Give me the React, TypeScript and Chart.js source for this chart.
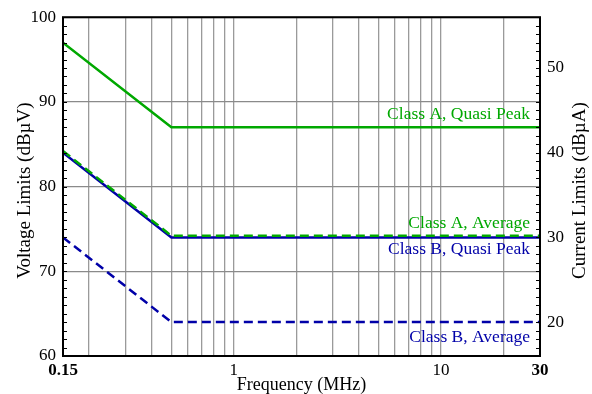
import React, { useEffect, useRef } from "react";
import { Chart, registerables } from "chart.js";

Chart.register(...registerables);

const freqs = [0.15, 0.5, 30];
const classAQP = [97, 87, 87];
const classAAvg = [84.2, 74.2, 74.2];
const classBQP = [84, 74, 74];
const classBAvg = [74, 64, 64];

const xGridTicks = [0.15, 0.2, 0.3, 0.4, 0.5, 0.6, 0.7, 0.8, 0.9, 1, 2, 3, 4, 5, 6, 7, 8, 9, 10, 20, 30];
const xLabelTicks = [0.15, 1, 10, 30];
const xBoldTicks = [0.15, 30];
const currentTicks = [20, 30, 40, 50];
const currentOffset = 44;

const GREEN = "#00a800";
const BLUE = "#0000a8";
const FONT = "'Liberation Serif', 'Times New Roman', serif";

const seriesLabels = [
  { text: "Class A, Quasi Peak", color: GREEN, values: classAQP, dy: -13 },
  { text: "Class A, Average", color: GREEN, values: classAAvg, dy: -12 },
  { text: "Class B, Quasi Peak", color: BLUE, values: classBQP, dy: 12 },
  { text: "Class B, Average", color: BLUE, values: classBAvg, dy: 15 },
];

const pts = (ys: number[]) => freqs.map((f, i) => ({ x: f, y: ys[i] }));

const decor = {
  id: "decor",
  afterDraw(chart: any) {
    const { ctx, chartArea: a, scales } = chart;
    const y = scales.y;
    const x = scales.x;
    ctx.save();
    ctx.strokeStyle = "#000";
    ctx.lineWidth = 1;
    for (let v = 61; v < 100; v++) {
      const py = Math.round(y.getPixelForValue(v)) + 0.5;
      ctx.beginPath();
      ctx.moveTo(a.left, py);
      ctx.lineTo(a.left + 4, py);
      ctx.moveTo(a.right, py);
      ctx.lineTo(a.right - 4, py);
      ctx.stroke();
    }
    ctx.lineWidth = 2;
    ctx.strokeRect(a.left, a.top, a.right - a.left, a.bottom - a.top);

    ctx.font = `17.5px ${FONT}`;
    ctx.textAlign = "right";
    ctx.textBaseline = "middle";
    const xr = x.getPixelForValue(30) - 10;
    for (const s of seriesLabels) {
      ctx.fillStyle = s.color;
      ctx.fillText(s.text, xr, y.getPixelForValue(s.values[s.values.length - 1]) + s.dy);
    }

    // vertical axis titles, both reading bottom to top
    ctx.fillStyle = "#000";
    ctx.font = `19px ${FONT}`;
    ctx.textAlign = "center";
    const cy = (a.top + a.bottom) / 2 + 4;
    ctx.save();
    ctx.translate(25, cy);
    ctx.rotate(-Math.PI / 2);
    ctx.fillText("Voltage Limits (dBµV)", 0, 0);
    ctx.restore();
    ctx.save();
    ctx.translate(580, cy);
    ctx.rotate(-Math.PI / 2);
    ctx.fillText("Current Limits (dBµA)", 0, 0);
    ctx.restore();
    ctx.restore();
  },
};

export default function App() {
  const ref = useRef<HTMLCanvasElement>(null);
  useEffect(() => {
    document.body.style.margin = "0";
    const chart = new Chart(ref.current!, {
      type: "line",
      data: {
        datasets: [
          { data: pts(classAQP), borderColor: GREEN, borderWidth: 2.5, pointRadius: 0, yAxisID: "y" },
          { data: pts(classAAvg), borderColor: GREEN, borderWidth: 2.5, borderDash: [9, 5], pointRadius: 0, yAxisID: "y" },
          { data: pts(classBQP), borderColor: BLUE, borderWidth: 2.5, pointRadius: 0, yAxisID: "y" },
          { data: pts(classBAvg), borderColor: BLUE, borderWidth: 2.5, borderDash: [9, 5], pointRadius: 0, yAxisID: "y" },
        ],
      },
      options: {
        animation: false,
        responsive: false,
        maintainAspectRatio: false,
        layout: { padding: { top: 15, left: 0, right: 0, bottom: 0 } },
        plugins: { legend: { display: false }, tooltip: { enabled: false } },
        scales: {
          x: {
            type: "logarithmic",
            min: 0.15,
            max: 30,
            afterBuildTicks: (s: any) => {
              s.ticks = xGridTicks.map((v) => ({ value: v }));
            },
            afterFit: (s: any) => {
              s.height = 38;
            },
            grid: { color: "#9a9a9a", lineWidth: 1.3, drawTicks: false },
            border: { display: false },
            ticks: {
              autoSkip: false,
              maxRotation: 0,
              padding: 4,
              color: "#000",
              font: (c: any) => ({
                family: FONT,
                size: 17,
                weight: c.tick && xBoldTicks.includes(c.tick.value) ? "bold" : "normal",
              }),
              callback: (v: any) => (xLabelTicks.includes(Number(v)) ? String(v) : ""),
            },
            title: {
              display: true,
              text: "Frequency (MHz)",
              color: "#000",
              font: { family: FONT, size: 18 },
              padding: { top: -6, bottom: -2 },
            },
          },
          y: {
            position: "left",
            min: 60,
            max: 100,
            afterFit: (s: any) => {
              s.width = 63;
            },
            grid: { color: "#8a8a8a", lineWidth: 1.3, drawTicks: false },
            border: { display: false },
            ticks: { stepSize: 10, padding: 7, color: "#000", font: { family: FONT, size: 17 } },
          },
          y2: {
            position: "right",
            min: 60 - currentOffset,
            max: 100 - currentOffset,
            afterBuildTicks: (s: any) => {
              s.ticks = currentTicks.map((v) => ({ value: v }));
            },
            afterFit: (s: any) => {
              s.width = 52;
            },
            grid: { display: false, drawTicks: false },
            border: { display: false },
            ticks: { padding: 7, color: "#000", font: { family: FONT, size: 17 } },
          },
        },
      },
      plugins: [decor],
    } as any);
    return () => chart.destroy();
  }, []);
  return <canvas ref={ref} width={592} height={394} style={{ display: "block" }} />;
}
